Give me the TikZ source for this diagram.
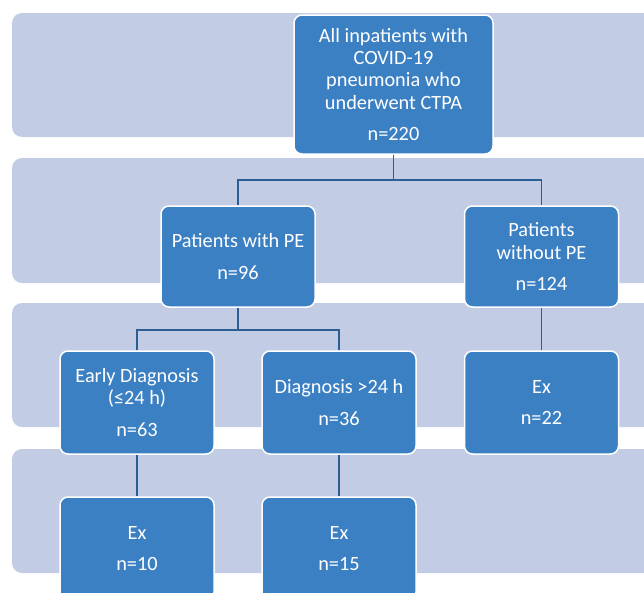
\documentclass[tikz,border=0pt]{standalone}
\usepackage{fontspec}
\setmainfont{Carlito}
\definecolor{bandc}{HTML}{C2CDE5}
\definecolor{boxc}{HTML}{3C80C4}
\definecolor{linec}{HTML}{2B5E94}
\tikzset{
  band/.style={fill=bandc, rounded corners=10pt},
  fbox/.style={rectangle, rounded corners=8pt, fill=boxc, draw=white, line width=1.5pt,
    text=white, align=center, minimum width=154pt, minimum height=103pt, inner sep=2pt,
    font=\fontsize{20.3}{22.3}\selectfont},
  conn/.style={draw=linec, line width=1.6pt}
}
\begin{document}
\begin{tikzpicture}[x=1pt,y=-1pt]
\useasboundingbox (0,0) rectangle (644,592);
\clip (0,0) rectangle (644,592);
\fill[white] (0,0) rectangle (644,592);
\fill[band] (12,13) rectangle (680,137);
\fill[band] (12,158) rectangle (680,283);
\fill[band] (12,303) rectangle (680,427);
\fill[band] (12,449) rectangle (680,573);

\node[fbox, minimum width=199pt, minimum height=139pt] (top) at (393.5,84.5)
  {All inpatients with\\COVID-19\\pneumonia who\\underwent CTPA\\[9pt]n=220};
\node[fbox, minimum height=101pt] (pe) at (238,256.5) {Patients with PE\\[9pt]n=96};
\node[fbox, minimum height=101pt] (nope) at (541.5,256.5) {Patients\\without PE\\[9pt]n=124};
\node[fbox] (early) at (137,402.5) {Early Diagnosis\\(≤24 h)\\[10pt]n=63};
\node[fbox] (late) at (339,402.5) {Diagnosis >24 h\\[9pt]n=36};
\node[fbox] (ex22) at (541.5,402.5) {Ex\\[9pt]n=22};
\node[fbox] (ex10) at (137,548.5) {Ex\\[9pt]n=10};
\node[fbox] (ex15) at (339,548.5) {Ex\\[9pt]n=15};

\coordinate (j1) at (393.5,180);
\coordinate (j2) at (238,330);
\draw[conn] (top.south) -- (j1);
\draw[conn] (pe.north) |- (j1) -| (nope.north);
\draw[conn] (pe.south) -- (j2);
\draw[conn] (early.north) |- (j2) -| (late.north);
\draw[conn] (nope.south) -- (ex22.north);
\draw[conn] (early.south) -- (ex10.north);
\draw[conn] (late.south) -- (ex15.north);
\end{tikzpicture}
\end{document}
